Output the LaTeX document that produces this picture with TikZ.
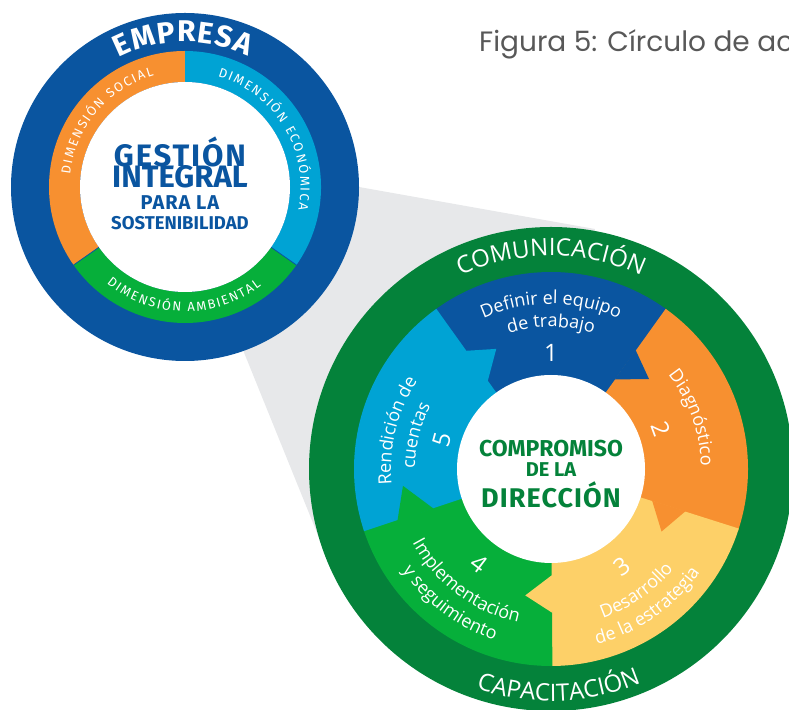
\documentclass[tikz,border=0pt]{standalone}
\usepackage{fontspec}
\setmainfont{Open Sans}
\newfontfamily\dinfont{Fira Sans}
\newfontfamily\titlefont{Poppins}
\usetikzlibrary{calc,decorations.text}

\definecolor{empresablue}{RGB}{10,85,160}
\definecolor{socialorange}{RGB}{247,144,48}
\definecolor{economicblue}{RGB}{0,163,212}
\definecolor{ambientgreen}{RGB}{6,175,58}
\definecolor{ringgreen}{RGB}{4,130,58}
\definecolor{strategyyellow}{RGB}{253,208,104}
\definecolor{bandgray}{RGB}{231,232,234}
\definecolor{titlegray}{RGB}{88,88,88}

\def\ringpart[#1](#2)(#3:#4:#5:#6){\fill[#1] ($(#2)+(#3:#6)$) arc (#3:#4:#6) -- ($(#2)+(#4:#5)$) arc (#4:#3:#5) -- cycle;}
\def\arctext[#1](#2)(#3:#4:#5)#6{\path[decorate,decoration={text along path,text align=center,text={|#1|#6}}] ($(#2)+(#3:#5)$) arc (#3:#4:#5);}
\def\segfont{\fontsize{18}{22}\selectfont\color{white}}
\def\dimfont{\dinfont\fontsize{13}{14}\selectfont\color{white}\kern1.7pt}
\def\corefont#1{\dinfont\bfseries\fontsize{#1}{#1}\selectfont}

\tikzset{
	steplabel/.style={text=white, inner sep=0pt, font=\fontsize{24}{28}\selectfont},
	coretext/.style={inner sep=0pt},
}

\begin{document}
\begin{tikzpicture}[x=1pt, y=1pt]
			%%%%% START %%%%%
			\clip (0, 0) rectangle (789, 709);
			\coordinate (S) at (185, 522);
			\coordinate (B) at (551, 240);
			
			% band between the two circles
			\fill[bandgray] (S) -- (359, 522) -- (595, 480) -- (B) -- (328, 149) -- (243, 359) -- cycle;
			
			% empresa circle
			\fill[empresablue] (S) circle (174);
			\ringpart[socialorange](S)(90:215:105:136)
			\ringpart[ambientgreen](S)(215:325:105:136)
			\ringpart[economicblue](S)(-35:90:105:136)
			\draw[empresablue, line width=0.8pt] ($(S)+(215:105)$) -- ($(S)+(215:136)$);
			\draw[empresablue, line width=0.8pt] ($(S)+(325:105)$) -- ($(S)+(325:136)$);
			\fill[white] (S) circle (105);
			
			\arctext[\corefont{30}\color{white}\kern1.2pt](S)(151:31:145){EMPRESA}
			\arctext[\dimfont](S)(200:80:115.5){DIMENSIÓN SOCIAL}
			\arctext[\dimfont](S)(91:-28:115.5){DIMENSIÓN ECONÓMICA}
			\arctext[\dimfont](S)(209:329:124.5){DIMENSIÓN AMBIENTAL}
			
			\node[coretext, text=empresablue, font=\corefont{31}\addfontfeature{LetterSpace=6}] (gestion) at (180, 557) {GESTIÓN};
			\node[coretext, text=empresablue, font=\corefont{31}] (integral) at (180, 532) {INTEGRAL};
			\node[coretext, text=empresablue, font=\corefont{20}\addfontfeature{LetterSpace=5}] (parala) at (180, 506) {PARA LA};
			\node[coretext, text=empresablue, font=\corefont{18.5}] (sosten) at (180, 486) {SOSTENIBILIDAD};
			
			% cycle circle
			\fill[ringgreen] (B) circle (242);
			\ringpart[empresablue](B)(53.6:126.4:80:197)
			\ringpart[socialorange](B)(-18.4:54.4:80:197)
			\ringpart[strategyyellow](B)(-90.4:-17.6:80:197)
			\ringpart[ambientgreen](B)(197.6:270.4:80:197)
			\ringpart[economicblue](B)(125.6:198.4:80:197)
			\foreach \bnd/\ra/\rb/\rt/\col in {126/107/147/132/economicblue, 54/110/146/133/empresablue, -18/106/141/127/socialorange, -90/106/144/129/strategyyellow, -162/124/162/149/ambientgreen}
			{
				\fill[\col] ($(B)+(\bnd+0.6:\ra)$) -- ($(B)+(\bnd-11.5:\rt)$) -- ($(B)+(\bnd+0.6:\rb)$) -- cycle;
			}
			\fill[white] (B) circle (94);
			
			\arctext[\fontsize{24}{26}\selectfont\color{white}](B)(150:30:213){COMUNICACIÓN}
			\arctext[\fontsize{24}{26}\selectfont\color{white}](B)(212:332:232){CAPACITACIÓN}
			
			\arctext[\segfont](B)(150:30:165){Definir el equipo}
			\arctext[\segfont](B)(150:30:142){de trabajo}
			\arctext[\segfont](B)(80:-40:150){Diagnóstico}
			\arctext[\segfont](B)(245:365:158){Desarrollo}
			\arctext[\segfont](B)(245:365:181){de la estrategia}
			\arctext[\segfont](B)(173:293:157){Implementación}
			\arctext[\segfont](B)(173:293:180){y seguimiento}
			\arctext[\segfont](B)(226:106:160){Rendición de}
			\arctext[\segfont](B)(226:106:136){cuentas}
			
			\node[steplabel] (num1) at ($(B)+(90:116)$) {1};
			\node[steplabel, rotate=-70] (num2) at ($(B)+(20:117)$) {2};
			\node[steplabel, rotate=36] (num3) at ($(B)+(306:121)$) {3};
			\node[steplabel, rotate=-37] (num4) at ($(B)+(233:119)$) {4};
			\node[steplabel, rotate=75] (num5) at ($(B)+(165:113)$) {5};
			
			\node[coretext, text=ringgreen, font=\corefont{23}] (compromiso) at (551, 260) {COMPROMISO};
			\node[coretext, text=ringgreen, font=\corefont{20}] (dela) at (551, 239) {DE LA};
			\node[coretext, text=ringgreen, font=\corefont{27}\addfontfeature{LetterSpace=4}] (direccion) at (551, 214) {DIRECCIÓN};
			
			\node[anchor=base west, inner sep=0pt, text=titlegray, font=\titlefont\fontsize{28}{30}\selectfont] (title) at (479, 657) {Figura 5: Círculo de ac};
			%%%%% END %%%%%
		\end{tikzpicture}
\end{document}
